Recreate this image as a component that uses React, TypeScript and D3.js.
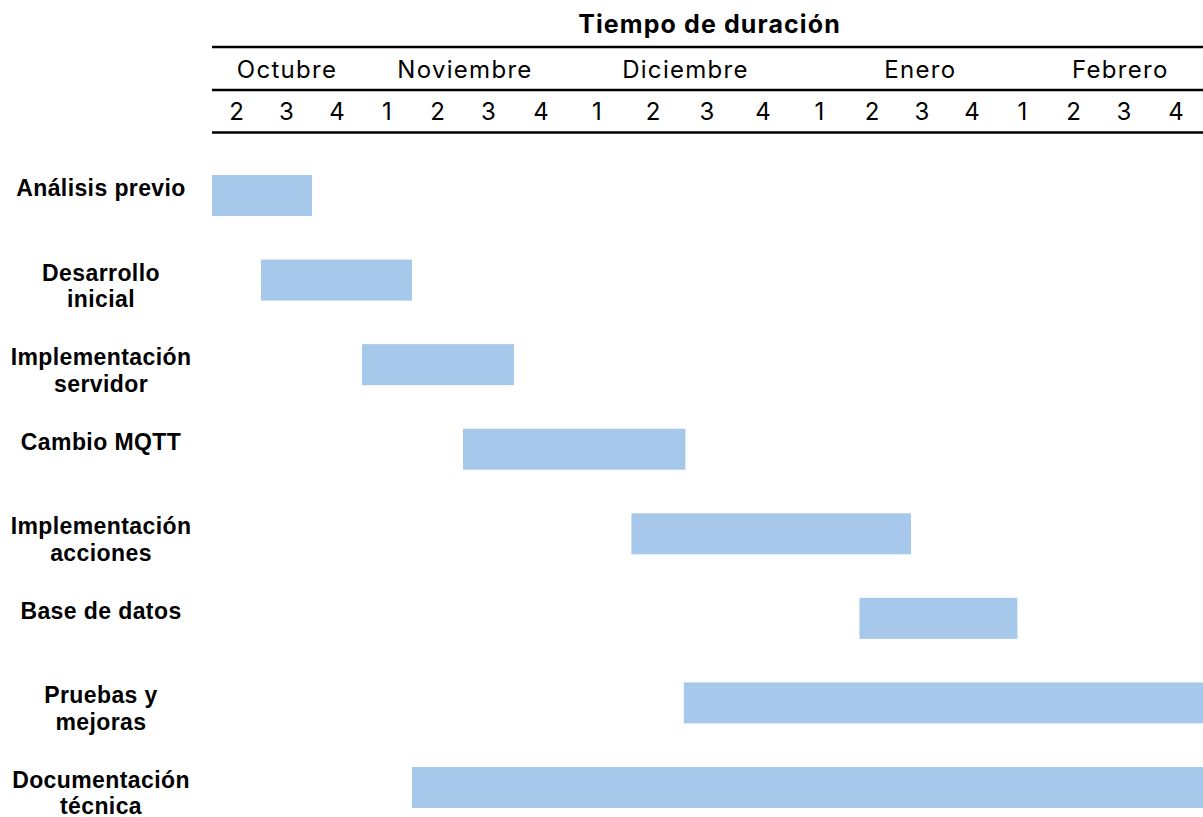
import React from "react";
import * as d3 from "d3";

// ---- data ----
const title = "Tiempo de duración";
const months = ["Octubre", "Noviembre", "Diciembre", "Enero", "Febrero"];
// month cell boundaries, in week-column units
const monthStart = [0, 3, 7, 11.2, 15.8];
const monthEnd = [3, 7, 11.2, 15.8, 19];
const weekLabels = ["2", "3", "4", "1", "2", "3", "4", "1", "2", "3", "4", "1", "2", "3", "4", "1", "2", "3", "4"];

const taskLabels = [
  ["Análisis previo"],
  ["Desarrollo", "inicial"],
  ["Implementación", "servidor"],
  ["Cambio MQTT"],
  ["Implementación", "acciones"],
  ["Base de datos"],
  ["Pruebas y", "mejoras"],
  ["Documentación", "técnica"],
];
// start / end in week-column units (0 = first column, Oct week 2)
const taskStart = [0, 1, 3, 5, 8.1, 12.25, 9.07, 4];
const taskEnd = [2, 4, 6, 9.1, 13.28, 15.4, 19, 19];

// ---- layout ----
const W = 1203;
const H = 817;
// column edges of the week table (px), uneven as in the source table
const colEdges = [212, 261, 312, 362, 412, 463, 514, 568, 626, 680, 734, 792, 847, 897, 947, 997, 1048, 1099, 1149, 1203];
const BAR_COLOR = "#A6C9EB";
const headFont = "Inter, Roboto, 'Liberation Sans', sans-serif";
const labelFont = "'Liberation Sans', Arial, sans-serif";

export default function App() {
  const x = d3
    .scaleLinear()
    .domain(d3.range(colEdges.length))
    .range(colEdges);

  const y = d3
    .scaleBand<number>()
    .domain(d3.range(taskLabels.length))
    .range([175, 808])
    .paddingInner(0.515)
    .paddingOuter(0);

  const lineX0 = x(0);
  const lineX1 = x(weekLabels.length);

  return (
    <svg
      width={W}
      height={H}
      style={{ position: "absolute", left: 0, top: 0, display: "block", background: "#fff" }}
    >
      {/* header */}
      <text
        x={(lineX0 + lineX1) / 2 + 2}
        y={33}
        textAnchor="middle"
        fontFamily={headFont}
        fontWeight={700}
        fontSize={25}
        letterSpacing={1.1}
        fill="#000"
      >
        {title}
      </text>
      <line x1={lineX0} x2={lineX1} y1={47} y2={47} stroke="#000" strokeWidth={2.4} />

      {/* months */}
      {months.map((m, i) => (
        <text
          key={m}
          x={(x(monthStart[i]) + x(monthEnd[i])) / 2}
          y={77.5}
          textAnchor="middle"
          fontFamily={headFont}
          fontSize={24}
          letterSpacing={1.3}
          fill="#000"
        >
          {m}
        </text>
      ))}
      <line x1={lineX0} x2={lineX1} y1={90} y2={90} stroke="#000" strokeWidth={2.4} />

      {/* weeks */}
      {weekLabels.map((w, i) => (
        <text
          key={i}
          x={(x(i) + x(i + 1)) / 2}
          y={119.5}
          textAnchor="middle"
          fontFamily={headFont}
          fontSize={24}
          fill="#000"
        >
          {w}
        </text>
      ))}
      <line x1={lineX0} x2={lineX1} y1={132.5} y2={132.5} stroke="#000" strokeWidth={2.4} />

      {/* bars */}
      {taskLabels.map((_, i) => (
        <rect
          key={i}
          x={x(taskStart[i])}
          y={y(i)}
          width={x(taskEnd[i]) - x(taskStart[i])}
          height={y.bandwidth()}
          fill={BAR_COLOR}
        />
      ))}

      {/* task labels */}
      {taskLabels.map((lines, i) => (
        <text
          key={i}
          x={101}
          y={(y(i) as number) + 21}
          textAnchor="middle"
          fontFamily={labelFont}
          fontWeight={700}
          fontSize={23}
          letterSpacing={0.4}
          fill="#000"
        >
          {lines.map((l, j) => (
            <tspan key={j} x={101} dy={j === 0 ? 0 : 26.5}>
              {l}
            </tspan>
          ))}
        </text>
      ))}
    </svg>
  );
}
